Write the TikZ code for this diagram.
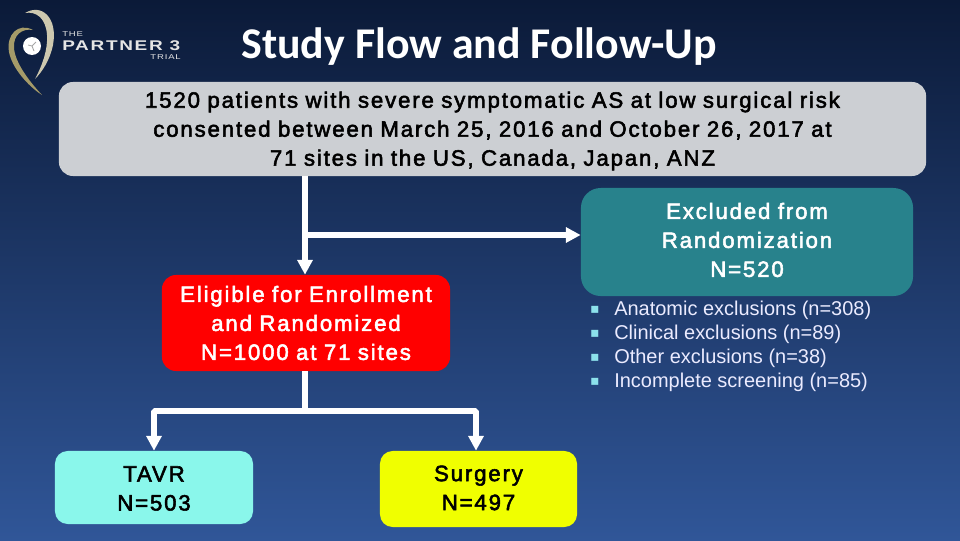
\documentclass[tikz,border=0pt]{standalone}
\usepackage{fontspec}
\setmainfont{Liberation Sans}
\newfontfamily\titlefont{Carlito}
\newfontfamily\boxfont[LetterSpace=8.3,FakeBold=2.4]{Liberation Sans}
\newfontfamily\logofont[LetterSpace=12,FakeStretch=1.35]{Liberation Sans}
\newfontfamily\bulletfont{DejaVu Sans}
\usetikzlibrary{arrows.meta,backgrounds}

\definecolor{bgtop}{RGB}{11,26,56}
\definecolor{bgbot}{RGB}{48,86,152}
\definecolor{boxgray}{RGB}{204,207,211}
\definecolor{boxteal}{RGB}{40,130,140}
\definecolor{boxcyan}{RGB}{138,247,235}
\definecolor{boxyellow}{RGB}{240,255,0}
\definecolor{bulletcol}{RGB}{140,225,235}

\newcommand{\boxshift}[1]{\endgraf\vspace{#1}}

\tikzstyle{line} = [white,line width=4.2pt]
\tikzstyle{arw} = [line,-{Triangle[length=10.5pt,width=10.5pt]}]
\tikzstyle{box} = [text width=8cm,align=center,inner sep=0pt,font=\boxfont\fontsize{15.8}{20.6}\selectfont]
\tikzstyle{lst} = [anchor=west,inner sep=0pt,text=white!92!blue,font=\fontsize{14.2}{17}\selectfont]
\tikzstyle{blt} = [anchor=center,inner sep=0pt,text=bulletcol,font=\bulletfont\fontsize{10}{10}\selectfont]
\tikzstyle{logo} = [anchor=west,inner sep=0pt,text=white!90!black]

\begin{document}
\begin{tikzpicture}[x=0.025cm,y=-0.025cm]
\useasboundingbox (0,0) rectangle (960,540);
\shade [top color=bgtop,bottom color=bgbot] (0,0) rectangle (960,540);

% logo
\fill [color={rgb,255:red,205;green,200;blue,175}] (25,13) .. controls (42,3) and (58,18) .. (53,45)
  .. controls (50,60) and (42,72) .. (35,79) .. controls (42,66) and (48,50) .. (47,35)
  .. controls (46,18) and (36,11) .. (25,13);
\fill [color={rgb,255:red,165;green,155;blue,105}] (33,30) .. controls (18,22) and (6,35) .. (9,52)
  .. controls (12,68) and (28,86) .. (42,95) .. controls (28,80) and (15,62) .. (14,48)
  .. controls (13,35) and (22,28) .. (33,30);
\fill [white] (32,46) circle (9);
\draw [gray!70,line width=0.6pt] (32,46) -- (36,42) (32,46) -- (28,45) (32,46) -- (34,51);
\node [logo,font=\logofont\fontsize{5}{5}\selectfont] (logothe) at (62,34) {THE};
\node [logo,font=\logofont\bfseries\fontsize{10}{10}\selectfont] (logoname) at (62,45.5) {PARTNER 3};
\node [logo,font=\logofont\fontsize{5}{5}\selectfont,anchor=east] (logotrial) at (181,57) {TRIAL};

\node [text=white,font=\titlefont\bfseries\fontsize{31.2}{32}\selectfont] (title) at (479,47) {Study Flow and Follow-Up};

% boxes
\node [box,fill=boxgray,rounded corners=10pt,minimum width=21.675cm,minimum height=2.35cm,text width=20cm,execute at end node=\boxshift{-2.8pt}] (consent) at (492.5,129)
  {1520 patients with severe symptomatic AS at low surgical risk\\ consented between March 25, 2016 and October 26, 2017 at\\ 71 sites in the US, Canada, Japan, ANZ};
\node [box,fill=boxteal,text=white,rounded corners=14pt,minimum width=8.3cm,minimum height=2.7cm,execute at end node=\boxshift{2.9pt}] (excl) at (747,242)
  {Excluded from\\ Randomization\\ N=520};
\node [box,fill=red,text=white,rounded corners=10pt,minimum width=7.2cm,minimum height=2.4cm,text width=7cm] (elig) at (306,323)
  {Eligible for Enrollment\\ and Randomized\\ N=1000 at 71 sites};
\node [box,fill=boxcyan,text=black,rounded corners=9pt,minimum width=4.95cm,minimum height=1.825cm,text width=4.5cm,execute at end node=\boxshift{-1.4pt}] (tavr) at (154,487.5)
  {TAVR\\ N=503};
\node [box,fill=boxyellow,text=black,rounded corners=9pt,minimum width=4.925cm,minimum height=1.9cm,text width=4.5cm,execute at end node=\boxshift{1.5pt}] (surg) at (478.5,489)
  {Surgery\\ N=497};

% exclusion list
\node [blt] (b1) at (595,310) {▪};
\node [blt] (b2) at (595,334) {▪};
\node [blt] (b3) at (595,358) {▪};
\node [blt] (b4) at (595,382) {▪};
\node [lst] (l1) at (614,311) {\strut Anatomic exclusions (n=308)};
\node [lst] (l2) at (614,335) {\strut Clinical exclusions (n=89)};
\node [lst] (l3) at (614,359) {\strut Other exclusions (n=38)};
\node [lst] (l4) at (614,383) {\strut Incomplete screening (n=85)};

% connectors
\coordinate (branch) at (305,235);
\coordinate (split) at (305,411);
\draw [arw] (consent.south -| branch) -- (elig.north -| branch);
\draw [arw] (branch) -- (excl.west |- branch);
\draw [line] (elig.south -| split) -- (split);
\draw [arw,rounded corners=1pt] (split) -| (tavr.north);
\draw [arw,rounded corners=1pt] (split) -| (surg.north -| 476,0);

\end{tikzpicture}
\end{document}
